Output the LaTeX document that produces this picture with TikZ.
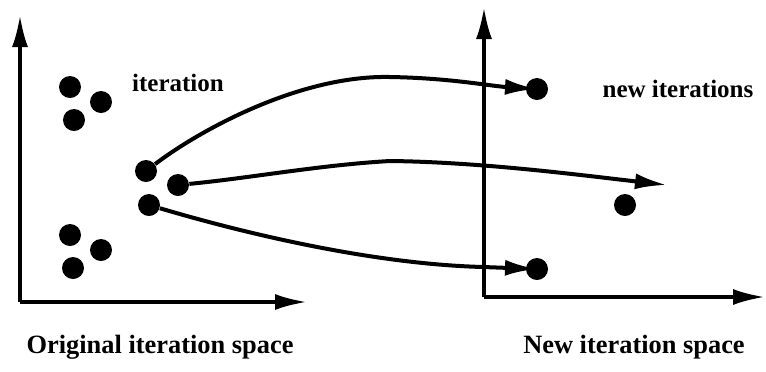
\documentclass[tikz,border=0pt]{standalone}
\usepackage{fontspec}
\setmainfont{Liberation Serif}
\usetikzlibrary{arrows.meta, positioning}

\begin{document}
\begin{tikzpicture}[
  x=0.5pt, y=-0.5pt,
  pnt/.style={circle, fill=black, inner sep=0pt, minimum size=11pt},
  lbl/.style={font=\fontsize{12.5}{15}\selectfont\bfseries, inner sep=0pt},
  ttl/.style={font=\fontsize{13.2}{16}\selectfont\bfseries, inner sep=0pt},
  axs/.style={line width=1.8pt, -{Latex[length=16pt,width=8pt]}},
  flw/.style={line width=2pt, -{Latex[length=16pt,width=8pt]}}
]
  \useasboundingbox (0,0) rectangle (766,371);

  % axes
  \coordinate (o1) at (20,302);
  \coordinate (y1) at (20,15);
  \coordinate (x1) at (307,302);
  \coordinate (o2) at (484,297);
  \coordinate (y2) at (484,7);
  \coordinate (x2) at (765,297);
  \draw[axs] (o1) -- (y1);
  \draw[axs] (o1) -- (x1);
  \draw[axs] (o2) -- (y2);
  \draw[axs] (o2) -- (x2);

  % original iterations
  \node[pnt] (a1) at (70,87) {};
  \node[pnt] (a2) at (101,102) {};
  \node[pnt] (a3) at (74,120) {};
  \node[pnt] (b1) at (70,235) {};
  \node[pnt] (b2) at (101,250) {};
  \node[pnt] (b3) at (73,268) {};
  \node[pnt] (m1) at (146,171) {};
  \node[pnt] (m2) at (178,185) {};
  \node[pnt] (m3) at (149,205) {};

  % new iterations
  \node[pnt] (r1) at (537,89) {};
  \node[pnt] (r2) at (625,205) {};
  \node[pnt] (r3) at (537,269) {};
  \coordinate (t2) at (667,185);

  % mappings
  \draw[flw] (m1) .. controls (200,130) and (300,75) .. (390,77)
    .. controls (450,78) and (490,86) .. (r1.center);
  \draw[flw] (m2) .. controls (250,178) and (320,165) .. (390,161)
    .. controls (480,162) and (580,175) .. (t2);
  \draw[flw] (m3) .. controls (240,232) and (370,264) .. (483,267) -- (r3.center);

  % labels
  \node[lbl] (it) at (178,83) {iteration};
  \node[lbl] (ni) at (678,89) {new iterations};
  \node[ttl] (os) at (160,347) {Original iteration space};
  \node[ttl] (ns) at (634,347) {New iteration space};
\end{tikzpicture}
\end{document}
